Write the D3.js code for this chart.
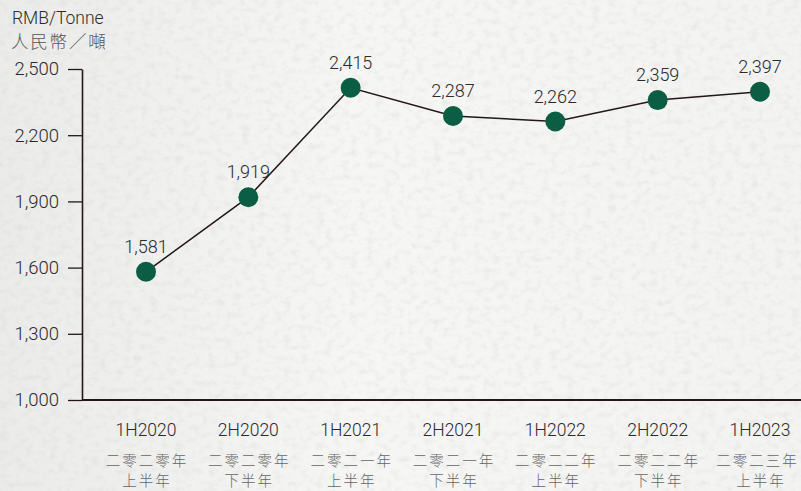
<!DOCTYPE html>
<html>
<head>
<meta charset="utf-8">
<script src="https://cdn.jsdelivr.net/npm/d3@7"></script>
<style>
  body { margin: 0; background: #f4f4f3; }
  svg { display: block; }
  text { font-family: Roboto, "Liberation Sans", sans-serif; font-weight: 300; }
  .zh { font-family: "Noto Sans CJK TC", sans-serif; font-weight: 300; }
</style>
</head>
<body>
<svg id="chart"></svg>
<script>
// data
const periods = ["1H2020", "2H2020", "1H2021", "2H2021", "1H2022", "2H2022", "1H2023"];
const periodsZh1 = ["二零二零年", "二零二零年", "二零二一年", "二零二一年", "二零二二年", "二零二二年", "二零二三年"];
const periodsZh2 = ["上半年", "下半年", "上半年", "下半年", "上半年", "下半年", "上半年"];
const prices = [1581, 1919, 2415, 2287, 2262, 2359, 2397];
const yTicks = [1000, 1300, 1600, 1900, 2200, 2500];

const width = 801, height = 491;
const margin = { top: 69, right: 0, bottom: 91, left: 82 };

const svg = d3.select("#chart").attr("width", width).attr("height", height);

// paper texture, kept faint
const defs = svg.append("defs");
const filt = defs.append("filter").attr("id", "paper").attr("x", 0).attr("y", 0).attr("width", "100%").attr("height", "100%");
filt.append("feTurbulence").attr("type", "fractalNoise").attr("baseFrequency", "0.12 0.16").attr("numOctaves", 3).attr("seed", 7).attr("result", "n");
filt.append("feColorMatrix").attr("in", "n").attr("type", "matrix")
  .attr("values", "0 0 0 0 0.6  0 0 0 0 0.6  0 0 0 0 0.58  0 0 0 -0.6 0.33");
const grad = defs.append("linearGradient").attr("id", "shade");
grad.append("stop").attr("offset", 0).attr("stop-color", "#ebebea");
grad.append("stop").attr("offset", 0.45).attr("stop-color", "#f6f6f5");
grad.append("stop").attr("offset", 1).attr("stop-color", "#f3f3f2");
svg.append("rect").attr("width", width).attr("height", height).attr("fill", "url(#shade)");
svg.append("rect").attr("width", width).attr("height", height).attr("filter", "url(#paper)");

// scales
const x = d3.scalePoint()
  .domain(periods)
  .range([146, 760]);

const y = d3.scaleLinear()
  .domain([1000, 2500])
  .range([height - margin.bottom, margin.top]);

// unit labels
svg.append("text").attr("x", 12).attr("y", 24)
  .attr("font-size", 17.5).attr("fill", "#2a2a2a").text("RMB/Tonne");
svg.append("text").attr("class", "zh").attr("x", 11).attr("y", 48)
  .attr("font-size", 17.5).attr("letter-spacing", 1.8).attr("fill", "#555").text("人民幣／噸");

// y axis
const yAxis = svg.append("g")
  .attr("transform", `translate(${margin.left},0)`)
  .call(d3.axisLeft(y).tickValues(yTicks).tickFormat(d3.format(",")).tickSize(14).tickPadding(9).tickSizeOuter(0));
yAxis.select(".domain").attr("stroke", "#231815").attr("stroke-width", 1.6);
yAxis.selectAll(".tick line").attr("stroke", "#231815").attr("stroke-width", 1.3);
yAxis.selectAll(".tick text").attr("font-size", 18.5).attr("fill", "#2a2a2a")
  .style("font-family", "Roboto, sans-serif").style("font-weight", 300);

// x axis line
svg.append("line")
  .attr("x1", margin.left).attr("x2", width)
  .attr("y1", y(1000)).attr("y2", y(1000))
  .attr("stroke", "#231815").attr("stroke-width", 2.2);

// category labels (last one nudged in so it stays inside the frame)
const last = periods.length - 1;
const cats = svg.append("g").selectAll("g")
  .data(periods)
  .join("g")
  .attr("transform", d => `translate(${x(d)},0)`);
cats.append("text").attr("y", 436).attr("text-anchor", "middle")
  .attr("font-size", 17.5).attr("fill", "#2a2a2a").text(d => d);
cats.append("text").attr("class", "zh").attr("y", 466)
  .attr("dx", (d, i) => i === last ? -2.5 : 1)
  .attr("text-anchor", "middle")
  .attr("font-size", 14.5).attr("letter-spacing", 2).attr("fill", "#666")
  .text((d, i) => periodsZh1[i]);
cats.append("text").attr("class", "zh").attr("y", 486).attr("dx", 1).attr("text-anchor", "middle")
  .attr("font-size", 14.5).attr("letter-spacing", 2).attr("fill", "#666")
  .text((d, i) => periodsZh2[i]);

// line
const lineGen = d3.line()
  .x((d, i) => x(periods[i]))
  .y(d => y(d));

svg.append("path")
  .datum(prices)
  .attr("fill", "none")
  .attr("stroke", "#231815")
  .attr("stroke-width", 1.5)
  .attr("d", lineGen);

// dots
svg.selectAll(".dot")
  .data(prices)
  .join("circle")
  .attr("class", "dot")
  .attr("cx", (d, i) => x(periods[i]))
  .attr("cy", d => y(d))
  .attr("r", 10)
  .attr("fill", "#0b5e43");

// value labels
svg.selectAll(".val")
  .data(prices)
  .join("text")
  .attr("class", "val")
  .attr("x", (d, i) => x(periods[i]))
  .attr("y", d => y(d) - 19)
  .attr("text-anchor", "middle")
  .attr("font-size", 18)
  .attr("fill", "#2a2a2a")
  .text(d => d3.format(",")(d));
</script>
</body>
</html>
